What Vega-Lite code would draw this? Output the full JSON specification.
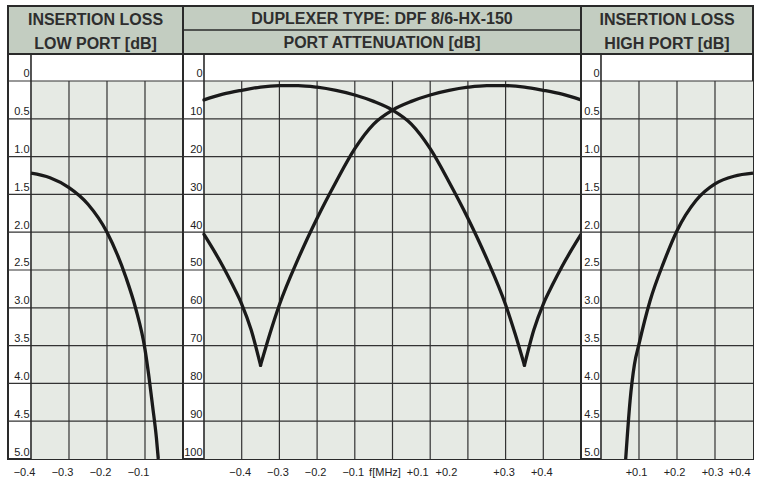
{
  "$schema": "https://vega.github.io/schema/vega-lite/v6.json",
  "padding": {"left": 6, "top": 5, "right": 0, "bottom": 0},
  "background": "white",
  "config": {
    "font": "Liberation Sans",
    "view": {"stroke": "#2a2a2a", "strokeWidth": 2},
    "axis": {"labelFont": "Liberation Sans", "labelFontSize": 11, "labelColor": "#222222", "title": null, "grid": false, "domain": false, "ticks": false, "tickSize": 0, "labelOverlap": false}
  },
  "columns": 3,
  "spacing": 0,
  "bounds": "flush",
  "align": "each",
  "concat": [
    {
      "width": 175, "height": 48,
      "view": {"fill": "#c3cdc1"},
      "data": {"values": [{"row": 1, "label": "INSERTION LOSS"}, {"row": 2, "label": "LOW PORT [dB]"}]},
      "mark": {"type": "text", "font": "Liberation Sans", "fontWeight": "bold", "fontSize": 16, "color": "#2e2e2e", "baseline": "middle", "dy": 1.5},
      "encoding": {
        "y": {"field": "row", "type": "quantitative", "axis": null, "scale": {"domain": [0.5, 2.5], "nice": false, "zero": false, "reverse": true}},
        "text": {"field": "label"}
      }
    },
    {
      "width": 398, "height": 48,
      "view": {"fill": "#c3cdc1"},
      "layer": [
        {
          "data": {"values": [{}]},
          "mark": {"type": "rule", "color": "#2a2a2a", "strokeWidth": 1.6},
          "encoding": {"y": {"datum": 1.5, "type": "quantitative", "axis": null, "scale": {"domain": [0.5, 2.5], "nice": false, "zero": false, "reverse": true}}}
        },
        {
          "data": {"values": [{"row": 1, "label": "DUPLEXER TYPE: DPF 8/6-HX-150"}, {"row": 2, "label": "PORT ATTENUATION [dB]"}]},
          "mark": {"type": "text", "font": "Liberation Sans", "fontWeight": "bold", "fontSize": 16, "color": "#2e2e2e", "baseline": "middle", "dy": 1},
          "encoding": {
            "y": {"field": "row", "type": "quantitative"},
            "text": {"field": "label"}
          }
        }
      ]
    },
    {
      "width": 172, "height": 48,
      "view": {"fill": "#c3cdc1"},
      "data": {"values": [{"row": 1, "label": "INSERTION LOSS"}, {"row": 2, "label": "HIGH PORT [dB]"}]},
      "mark": {"type": "text", "font": "Liberation Sans", "fontWeight": "bold", "fontSize": 16, "color": "#2e2e2e", "baseline": "middle", "dy": 1.5},
      "encoding": {
        "y": {"field": "row", "type": "quantitative", "axis": null, "scale": {"domain": [0.5, 2.5], "nice": false, "zero": false, "reverse": true}},
        "text": {"field": "label"}
      }
    },
    {
      "width": 175, "height": 405,
      "view": {"fill": "white"},
      "layer": [
        {
          "data": {"values": [{}]},
          "mark": {"type": "rect", "color": "#e6eae4"},
          "encoding": {
            "x": {"datum": -0.4, "type": "quantitative",
                  "scale": {"domain": [-0.4605, 0], "nice": false, "zero": false},
                  "axis": {"title": null, "values": [-0.4, -0.3, -0.2, -0.1], "labelExpr": "'\u2212' + format(-datum.value, '.1f')", "labelPadding": 7, "labelOffset": -7}},
            "x2": {"datum": 0},
            "y": {"datum": 0, "type": "quantitative",
                  "scale": {"domain": [-0.357, 5], "reverse": true, "nice": false, "zero": false},
                  "axis": {"title": null, "values": [0, 0.5, 1, 1.5, 2, 2.5, 3, 3.5, 4, 4.5, 5], "labelExpr": "datum.value == 0 ? '0' : format(datum.value, '.1f')", "offset": -23, "labelPadding": 2, "labelAlign": "right", "labelBaseline": "bottom", "labelOffset": -2}},
            "y2": {"datum": 5}
          }
        },
        {
          "data": {"values": [{"g": -0.3}, {"g": -0.2}, {"g": -0.1}]},
          "mark": {"type": "rule", "color": "#333333", "strokeWidth": 1.2},
          "encoding": {"x": {"field": "g", "type": "quantitative"}, "y": {"datum": 0}, "y2": {"datum": 5}}
        },
        {
          "data": {"values": [{"h": 0}, {"h": 0.5}, {"h": 1}, {"h": 1.5}, {"h": 2}, {"h": 2.5}, {"h": 3}, {"h": 3.5}, {"h": 4}, {"h": 4.5}]},
          "mark": {"type": "rule", "color": "#333333", "strokeWidth": 1.2},
          "encoding": {"y": {"field": "h", "type": "quantitative"}}
        },
        {
          "data": {"values": [{}]},
          "mark": {"type": "rule", "color": "#2a2a2a", "strokeWidth": 1.6},
          "encoding": {"x": {"datum": -0.4}}
        },
        {
          "data": {"values": [
            {"f_MHz": -0.4, "loss_dB": 1.22},
            {"f_MHz": -0.35, "loss_dB": 1.28},
            {"f_MHz": -0.3, "loss_dB": 1.41},
            {"f_MHz": -0.25, "loss_dB": 1.63},
            {"f_MHz": -0.2, "loss_dB": 2.0},
            {"f_MHz": -0.15, "loss_dB": 2.6},
            {"f_MHz": -0.125, "loss_dB": 3.0},
            {"f_MHz": -0.1, "loss_dB": 3.55},
            {"f_MHz": -0.09, "loss_dB": 3.9},
            {"f_MHz": -0.08, "loss_dB": 4.3},
            {"f_MHz": -0.07, "loss_dB": 4.72},
            {"f_MHz": -0.065, "loss_dB": 5.0}
          ]},
          "mark": {"type": "line", "color": "#1a1a1a", "strokeWidth": 3.3, "interpolate": "monotone", "strokeCap": "butt"},
          "encoding": {"x": {"field": "f_MHz", "type": "quantitative"}, "y": {"field": "loss_dB", "type": "quantitative"}}
        }
      ]
    },
    {
      "width": 398, "height": 405,
      "view": {"fill": "white"},
      "layer": [
        {
          "data": {"values": [{}]},
          "mark": {"type": "rect", "color": "#e6eae4"},
          "encoding": {
            "x": {"datum": -0.5, "type": "quantitative",
                  "scale": {"domain": [-0.5557, 0.5], "nice": false, "zero": false},
                  "axis": {"title": null, "values": [-0.4, -0.3, -0.2, -0.1, 0, 0.1, 0.2, 0.3, 0.4],
                           "labelExpr": "datum.value < 0 ? '\u2212' + format(-datum.value, '.1f') : (datum.value == 0 ? 'f[MHz]' : '+' + format(datum.value, '.1f'))",
                           "labelPadding": 7,
                           "labelOffset": {"condition": [{"test": "datum.value == 0", "value": -8}, {"test": "datum.value > 0.05 && datum.value < 0.15", "value": -13}, {"test": "datum.value > 0.15 && datum.value < 0.25", "value": -22}], "value": -2}}},
            "x2": {"datum": 0.5},
            "y": {"datum": 0, "type": "quantitative",
                  "scale": {"domain": [-7.14, 100], "reverse": true, "nice": false, "zero": false},
                  "axis": {"title": null, "values": [0, 10, 20, 30, 40, 50, 60, 70, 80, 90, 100], "offset": -21, "labelPadding": 2, "labelAlign": "right", "labelBaseline": "bottom", "labelOffset": -2}},
            "y2": {"datum": 100}
          }
        },
        {
          "data": {"values": [{"g": -0.4}, {"g": -0.3}, {"g": -0.2}, {"g": -0.1}, {"g": 0}, {"g": 0.1}, {"g": 0.2}, {"g": 0.3}, {"g": 0.4}]},
          "mark": {"type": "rule", "color": "#333333", "strokeWidth": 1.2},
          "encoding": {"x": {"field": "g", "type": "quantitative"}, "y": {"datum": 0}, "y2": {"datum": 100}}
        },
        {
          "data": {"values": [{"h": 0}, {"h": 10}, {"h": 20}, {"h": 30}, {"h": 40}, {"h": 50}, {"h": 60}, {"h": 70}, {"h": 80}, {"h": 90}]},
          "mark": {"type": "rule", "color": "#333333", "strokeWidth": 1.2},
          "encoding": {"y": {"field": "h", "type": "quantitative"}}
        },
        {
          "data": {"values": [{}]},
          "mark": {"type": "rule", "color": "#2a2a2a", "strokeWidth": 1.6},
          "encoding": {"x": {"datum": -0.5}}
        },
        {
          "data": {"values": [
            {"curve": "A", "seg": "A1", "f_MHz": -0.5, "atten_dB": 5.0},
            {"curve": "A", "seg": "A1", "f_MHz": -0.45, "atten_dB": 3.5},
            {"curve": "A", "seg": "A1", "f_MHz": -0.4, "atten_dB": 2.46},
            {"curve": "A", "seg": "A1", "f_MHz": -0.35, "atten_dB": 1.6},
            {"curve": "A", "seg": "A1", "f_MHz": -0.3, "atten_dB": 1.23},
            {"curve": "A", "seg": "A1", "f_MHz": -0.25, "atten_dB": 1.2},
            {"curve": "A", "seg": "A1", "f_MHz": -0.2, "atten_dB": 1.65},
            {"curve": "A", "seg": "A1", "f_MHz": -0.15, "atten_dB": 2.5},
            {"curve": "A", "seg": "A1", "f_MHz": -0.1, "atten_dB": 3.7},
            {"curve": "A", "seg": "A1", "f_MHz": -0.05, "atten_dB": 5.4},
            {"curve": "A", "seg": "A1", "f_MHz": 0, "atten_dB": 7.7},
            {"curve": "A", "seg": "A1", "f_MHz": 0.05, "atten_dB": 11.4},
            {"curve": "A", "seg": "A1", "f_MHz": 0.1, "atten_dB": 17.9},
            {"curve": "A", "seg": "A1", "f_MHz": 0.15, "atten_dB": 26.7},
            {"curve": "A", "seg": "A1", "f_MHz": 0.2, "atten_dB": 36.3},
            {"curve": "A", "seg": "A1", "f_MHz": 0.25, "atten_dB": 47.0},
            {"curve": "A", "seg": "A1", "f_MHz": 0.3, "atten_dB": 59.2},
            {"curve": "A", "seg": "A1", "f_MHz": 0.325, "atten_dB": 66.8},
            {"curve": "A", "seg": "A1", "f_MHz": 0.35, "atten_dB": 75.2},
            {"curve": "A", "seg": "A2", "f_MHz": 0.35, "atten_dB": 75.2},
            {"curve": "A", "seg": "A2", "f_MHz": 0.375, "atten_dB": 65.8},
            {"curve": "A", "seg": "A2", "f_MHz": 0.4, "atten_dB": 59.0},
            {"curve": "A", "seg": "A2", "f_MHz": 0.425, "atten_dB": 53.8},
            {"curve": "A", "seg": "A2", "f_MHz": 0.45, "atten_dB": 49.0},
            {"curve": "A", "seg": "A2", "f_MHz": 0.5, "atten_dB": 40.6},
            {"curve": "B", "seg": "B1", "f_MHz": -0.5, "atten_dB": 40.6},
            {"curve": "B", "seg": "B1", "f_MHz": -0.45, "atten_dB": 49.0},
            {"curve": "B", "seg": "B1", "f_MHz": -0.425, "atten_dB": 53.8},
            {"curve": "B", "seg": "B1", "f_MHz": -0.4, "atten_dB": 59.0},
            {"curve": "B", "seg": "B1", "f_MHz": -0.375, "atten_dB": 65.8},
            {"curve": "B", "seg": "B1", "f_MHz": -0.35, "atten_dB": 75.2},
            {"curve": "B", "seg": "B2", "f_MHz": -0.35, "atten_dB": 75.2},
            {"curve": "B", "seg": "B2", "f_MHz": -0.325, "atten_dB": 66.8},
            {"curve": "B", "seg": "B2", "f_MHz": -0.3, "atten_dB": 59.2},
            {"curve": "B", "seg": "B2", "f_MHz": -0.25, "atten_dB": 47.0},
            {"curve": "B", "seg": "B2", "f_MHz": -0.2, "atten_dB": 36.3},
            {"curve": "B", "seg": "B2", "f_MHz": -0.15, "atten_dB": 26.7},
            {"curve": "B", "seg": "B2", "f_MHz": -0.1, "atten_dB": 17.9},
            {"curve": "B", "seg": "B2", "f_MHz": -0.05, "atten_dB": 11.4},
            {"curve": "B", "seg": "B2", "f_MHz": 0, "atten_dB": 7.7},
            {"curve": "B", "seg": "B2", "f_MHz": 0.05, "atten_dB": 5.4},
            {"curve": "B", "seg": "B2", "f_MHz": 0.1, "atten_dB": 3.7},
            {"curve": "B", "seg": "B2", "f_MHz": 0.15, "atten_dB": 2.5},
            {"curve": "B", "seg": "B2", "f_MHz": 0.2, "atten_dB": 1.65},
            {"curve": "B", "seg": "B2", "f_MHz": 0.25, "atten_dB": 1.2},
            {"curve": "B", "seg": "B2", "f_MHz": 0.3, "atten_dB": 1.23},
            {"curve": "B", "seg": "B2", "f_MHz": 0.35, "atten_dB": 1.6},
            {"curve": "B", "seg": "B2", "f_MHz": 0.4, "atten_dB": 2.46},
            {"curve": "B", "seg": "B2", "f_MHz": 0.45, "atten_dB": 3.5},
            {"curve": "B", "seg": "B2", "f_MHz": 0.5, "atten_dB": 5.0}
          ]},
          "mark": {"type": "line", "color": "#1a1a1a", "strokeWidth": 3.3, "interpolate": "monotone", "strokeCap": "round"},
          "encoding": {"x": {"field": "f_MHz", "type": "quantitative"}, "y": {"field": "atten_dB", "type": "quantitative"}, "detail": {"field": "seg"}}
        }
      ]
    },
    {
      "width": 172, "height": 405,
      "view": {"fill": "white"},
      "layer": [
        {
          "data": {"values": [{}]},
          "mark": {"type": "rect", "color": "#e6eae4"},
          "encoding": {
            "x": {"datum": 0, "type": "quantitative",
                  "scale": {"domain": [-0.0526, 0.4], "nice": false, "zero": false},
                  "axis": {"title": null, "values": [0.1, 0.2, 0.3, 0.4], "labelExpr": "'+' + format(datum.value, '.1f')", "labelPadding": 7, "labelOffset": -3}},
            "x2": {"datum": 0.4},
            "y": {"datum": 0, "type": "quantitative",
                  "scale": {"domain": [-0.357, 5], "reverse": true, "nice": false, "zero": false},
                  "axis": {"title": null, "values": [0, 0.5, 1, 1.5, 2, 2.5, 3, 3.5, 4, 4.5, 5], "labelExpr": "datum.value == 0 ? '0' : format(datum.value, '.1f')", "offset": -20, "labelPadding": 2, "labelAlign": "right", "labelBaseline": "bottom", "labelOffset": -2}},
            "y2": {"datum": 5}
          }
        },
        {
          "data": {"values": [{"g": 0.1}, {"g": 0.2}, {"g": 0.3}]},
          "mark": {"type": "rule", "color": "#333333", "strokeWidth": 1.2},
          "encoding": {"x": {"field": "g", "type": "quantitative"}, "y": {"datum": 0}, "y2": {"datum": 5}}
        },
        {
          "data": {"values": [{"h": 0}, {"h": 0.5}, {"h": 1}, {"h": 1.5}, {"h": 2}, {"h": 2.5}, {"h": 3}, {"h": 3.5}, {"h": 4}, {"h": 4.5}]},
          "mark": {"type": "rule", "color": "#333333", "strokeWidth": 1.2},
          "encoding": {"y": {"field": "h", "type": "quantitative"}}
        },
        {
          "data": {"values": [{}]},
          "mark": {"type": "rule", "color": "#2a2a2a", "strokeWidth": 1.6},
          "encoding": {"x": {"datum": 0}}
        },
        {
          "data": {"values": [
            {"f_MHz": 0.065, "loss_dB": 5.0},
            {"f_MHz": 0.0765, "loss_dB": 4.23},
            {"f_MHz": 0.088, "loss_dB": 3.75},
            {"f_MHz": 0.1, "loss_dB": 3.48},
            {"f_MHz": 0.129, "loss_dB": 2.91},
            {"f_MHz": 0.165, "loss_dB": 2.4},
            {"f_MHz": 0.2, "loss_dB": 1.98},
            {"f_MHz": 0.25, "loss_dB": 1.58},
            {"f_MHz": 0.3, "loss_dB": 1.36},
            {"f_MHz": 0.35, "loss_dB": 1.26},
            {"f_MHz": 0.4, "loss_dB": 1.22}
          ]},
          "mark": {"type": "line", "color": "#1a1a1a", "strokeWidth": 3.3, "interpolate": "monotone", "strokeCap": "butt"},
          "encoding": {"x": {"field": "f_MHz", "type": "quantitative"}, "y": {"field": "loss_dB", "type": "quantitative"}}
        }
      ]
    }
  ]
}
